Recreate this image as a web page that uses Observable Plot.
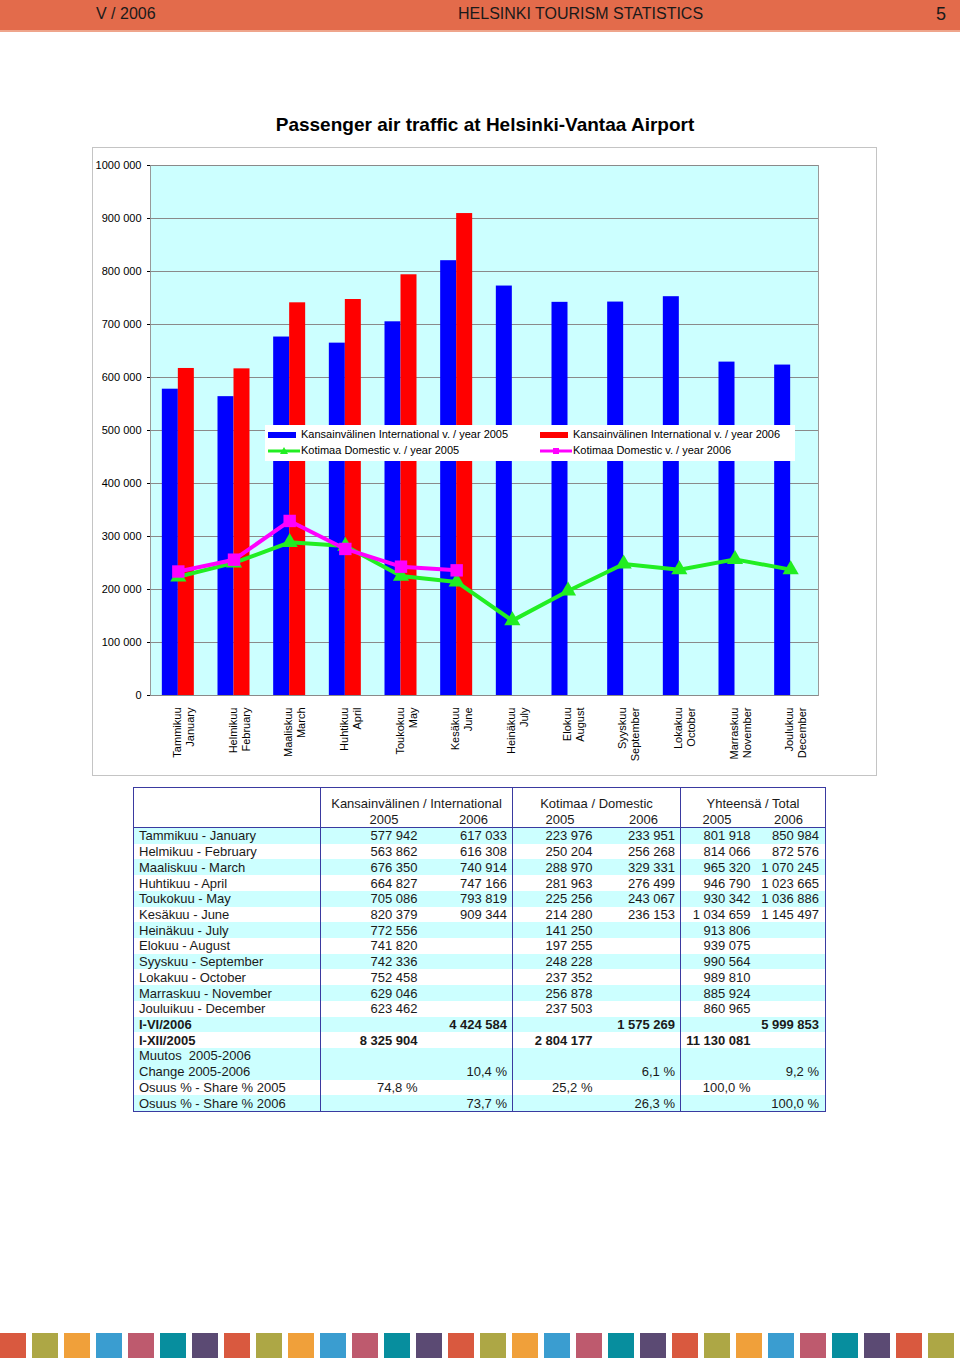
<!DOCTYPE html>
<html><head><meta charset="utf-8">
<script src="https://cdn.jsdelivr.net/npm/d3@7"></script>
<script src="https://cdn.jsdelivr.net/npm/@observablehq/plot@0.6"></script>
<style>
body{margin:0;background:#fff;font-family:"Liberation Sans",Arial,Helvetica,sans-serif;color:#1a1a1a;}
#page{position:relative;width:960px;height:1358px;overflow:hidden;background:#fff;}
#hdr{position:absolute;left:0;top:0;width:960px;height:30px;background:#E36B4B;border-bottom:2px solid #EFA58C;font-size:16px;}
#hdr span{position:absolute;top:5px;white-space:nowrap;}
#title{position:absolute;left:0;width:970px;top:114px;text-align:center;font-weight:bold;font-size:19px;color:#000;}
#chartbox{position:absolute;left:93px;top:148px;width:783px;height:627px;outline:1px solid #c4c4c4;background:#fff;}
#legend{position:absolute;left:265px;top:425px;width:530px;height:36px;background:#fff;font-size:11px;color:#000;}
.li{position:absolute;white-space:nowrap;}
#tbl{position:absolute;left:133px;top:787px;border-collapse:collapse;table-layout:fixed;font-size:13px;color:#1a1a1a;border:1.5px solid #3a3aa0;}
#tbl td{padding:0;line-height:15px;white-space:nowrap;overflow:visible;}
#tbl tr.b td{height:15.72px;}
#tbl td.n{text-align:right;padding-right:4px;}
#tbl td.l{padding-left:5px;}
#tbl td.sep{border-right:1.5px solid #3a3aa0;}
#tbl tr.cy td{background:#CCFFFF;}
#tbl tr.bold td{font-weight:bold;}
#tbl tr.h1 td{height:23px;vertical-align:bottom;text-align:center;}
#tbl tr.h2 td{height:16px;border-bottom:1.5px solid #3a3aa0;}
#stripes{position:absolute;left:0;top:1333px;width:960px;height:25px;}
#stripes div{position:absolute;top:0;width:26px;height:25px;}
</style></head><body><div id="page">
<div id="hdr"><span style="left:96px">V / 2006</span><span style="left:458px">HELSINKI TOURISM STATISTICS</span><span style="left:936px;font-size:18px;top:4px">5</span></div>
<div id="title">Passenger air traffic at Helsinki-Vantaa Airport</div>
<div id="chartbox"></div>
<div id="legend"></div>
<table id="tbl"></table>
<div id="stripes"></div>
</div>
<script>
// ---- data ----
const monthsFi = ["Tammikuu","Helmikuu","Maaliskuu","Huhtikuu","Toukokuu","Kesäkuu","Heinäkuu","Elokuu","Syyskuu","Lokakuu","Marraskuu","Joulukuu"];
const monthsEn = ["January","February","March","April","May","June","July","August","September","October","November","December"];
const rowLabels = ["Tammikuu - January","Helmikuu - February","Maaliskuu - March","Huhtikuu - April","Toukokuu - May","Kesäkuu - June","Heinäkuu - July","Elokuu - August","Syyskuu - September","Lokakuu - October","Marraskuu - November","Jouluikuu - December"];
const intl2005 = [577942,563862,676350,664827,705086,820379,772556,741820,742336,752458,629046,623462];
const intl2006 = [617033,616308,740914,747166,793819,909344];
const dom2005 = [223976,250204,288970,281963,225256,214280,141250,197255,248228,237352,256878,237503];
const dom2006 = [233951,256268,329331,276499,243067,236153];
// official full-year 2005 totals (I-XII/2005): international, domestic, total
const year2005 = [8325904, 2804177, 11130081];
const yTicks = [0,100000,200000,300000,400000,500000,600000,700000,800000,900000,1000000];
const seriesNames = ["Kansainvälinen International v. / year 2005","Kansainvälinen International v. / year 2006","Kotimaa Domestic v. / year 2005","Kotimaa Domestic v. / year 2006"];
const colors = {i05:"#0000FF", i06:"#FF0000", d05:"#22EE22", d06:"#FF00FF"};
const stripeColors = ["#D9593F","#ADA745","#F0A03A","#3A9DD0","#BE5A6E","#078E9E","#5B4A73"];

// ---- helpers ----
const fmt = v => d3.format(",")(v).replace(/,/g, " ");
const fmtY = v => v === 1000000 ? "1000 000" : fmt(v);
const pct = v => (v*100).toFixed(1).replace(".", ",") + " %";
const rows = vals => vals.map((v,i) => ({m: monthsEn[i], v}));

// ---- chart ----
const W = 783, H = 627, mL = 57, mR = 58, mT = 17, mB = 80;
const bw = (W - mL - mR) / 12, barW = 16;
const chart = Plot.plot({
  width: W, height: H, marginLeft: mL, marginRight: mR, marginTop: mT, marginBottom: mB,
  style: {fontFamily: "Liberation Sans, Arial, Helvetica, sans-serif", fontSize: "11px", background: "transparent", overflow: "visible", color: "#000"},
  x: {type: "band", domain: monthsEn, padding: 0, round: false},
  y: {domain: [0, 1000000]},
  marks: [
    Plot.frame({fill: "#CCFFFF", stroke: "#999"}),
    Plot.gridY({ticks: yTicks, stroke: "#8a8a8a", strokeOpacity: 1}),
    Plot.barY(rows(intl2005), {x: "m", y: "v", fill: colors.i05, insetLeft: bw/2 - barW, insetRight: bw/2}),
    Plot.barY(rows(intl2006), {x: "m", y: "v", fill: colors.i06, insetLeft: bw/2, insetRight: bw/2 - barW}),
    Plot.line(rows(dom2005), {x: "m", y: "v", stroke: colors.d05, strokeWidth: 4}),
    Plot.dot(rows(dom2005), {x: "m", y: "v", symbol: "triangle", fill: colors.d05, stroke: "none", r: 6}),
    Plot.line(rows(dom2006), {x: "m", y: "v", stroke: colors.d06, strokeWidth: 4}),
    Plot.dot(rows(dom2006), {x: "m", y: "v", symbol: "square", fill: colors.d06, stroke: "none", r: 7}),
    Plot.axisY({ticks: yTicks, tickFormat: fmtY, tickSize: 3, tickPadding: 6, label: null, fontSize: 11}),
    Plot.axisX({tickRotate: -90, tickSize: 0, tickPadding: 12, dx: 5, lineHeight: 1.2, label: null, fontSize: 11,
      tickFormat: m => monthsFi[monthsEn.indexOf(m)] + "\n" + m})
  ]
});
document.getElementById("chartbox").appendChild(chart);

// ---- legend ----
const lg = document.getElementById("legend");
const swatchBar = c => `<svg width="33" height="8" style="vertical-align:middle"><rect x="0" y="1" width="28" height="6" fill="${c}"/></svg>`;
const swatchLine = (c, sym) => `<svg width="33" height="12" style="vertical-align:middle"><line x1="0" x2="32" y1="6" y2="6" stroke="${c}" stroke-width="3"/>${sym === "tri" ? `<path d="M16,2 L20,9 L12,9 Z" fill="${c}"/>` : `<rect x="13" y="3" width="6" height="6" fill="${c}"/>`}</svg>`;
const lpos = [[3,3],[275,3],[3,19],[275,19]];
const sw = [swatchBar(colors.i05), swatchBar(colors.i06), swatchLine(colors.d05,"tri"), swatchLine(colors.d06,"sq")];
seriesNames.forEach((n,i) => {
  const d = document.createElement("div");
  d.className = "li"; d.style.left = lpos[i][0] + "px"; d.style.top = lpos[i][1] + "px";
  d.innerHTML = sw[i] + n;
  lg.appendChild(d);
});

// ---- table ----
const sum = a => d3.sum(a);
const h1 = n => sum(n.slice(0,6));
const [tI05, tD05, tT05] = year2005;
const tI06 = sum(intl2006), tD06 = sum(dom2006);
const tot2005 = intl2005.map((v,i) => v + dom2005[i]);
const tot2006 = intl2006.map((v,i) => v + dom2006[i]);
let html = `<colgroup><col style="width:187px"><col style="width:100px"><col style="width:92px"><col style="width:85px"><col style="width:83px"><col style="width:74px"><col style="width:71px"></colgroup>`;
html += `<tr class="h1"><td class="sep" rowspan="2" style="border-bottom:1.5px solid #3a3aa0"></td><td colspan="2" class="sep">Kansainvälinen / International</td><td colspan="2" class="sep">Kotimaa / Domestic</td><td colspan="2">Yhteensä / Total</td></tr>`;
html += `<tr class="h2"><td class="n" style="padding-right:22px">2005</td><td class="n sep" style="padding-right:24px">2006</td><td class="n" style="padding-right:23px">2005</td><td class="n sep" style="padding-right:22px">2006</td><td class="n" style="padding-right:23px">2005</td><td class="n" style="padding-right:22px">2006</td></tr>`;
const row = (cls, label, cells) => `<tr class="b ${cls}"><td class="l sep">${label}</td>` +
  cells.map((c,j) => `<td class="n${j%2===1 && j<5 ? " sep" : ""}" style="padding-right:${[3,5,5,5,4,6][j]}px">${c ?? ""}</td>`).join("") + `</tr>`;
for (let i = 0; i < 12; i++) {
  html += row(i % 2 === 0 ? "cy" : "", rowLabels[i], [
    fmt(intl2005[i]), intl2006[i] != null ? fmt(intl2006[i]) : "",
    fmt(dom2005[i]), dom2006[i] != null ? fmt(dom2006[i]) : "",
    fmt(tot2005[i]), tot2006[i] != null ? fmt(tot2006[i]) : ""]);
}
html += row("cy bold", "I-VI/2006", ["", fmt(tI06), "", fmt(tD06), "", fmt(tI06 + tD06)]);
html += row("bold", "I-XII/2005", [fmt(tI05), "", fmt(tD05), "", fmt(tT05), ""]);
html += row("cy", "Muutos&nbsp; 2005-2006", ["", "", "", "", "", ""]);
html += row("cy", "Change 2005-2006", ["", pct(tI06/h1(intl2005) - 1), "", pct(tD06/h1(dom2005) - 1), "", pct((tI06+tD06)/(h1(intl2005)+h1(dom2005)) - 1)]);
html += row("", "Osuus % - Share % 2005", [pct(tI05/tT05), "", pct(tD05/tT05), "", pct(1), ""]);
html += row("cy", "Osuus % - Share % 2006", ["", pct(tI06/(tI06+tD06)), "", pct(tD06/(tI06+tD06)), "", pct(1)]);
document.getElementById("tbl").innerHTML = html;

// ---- decorative stripes ----
const st = document.getElementById("stripes");
for (let k = 0; k < 30; k++) {
  const d = document.createElement("div");
  d.style.left = (k * 32) + "px";
  d.style.background = stripeColors[k % stripeColors.length];
  st.appendChild(d);
}
</script>
</body></html>
